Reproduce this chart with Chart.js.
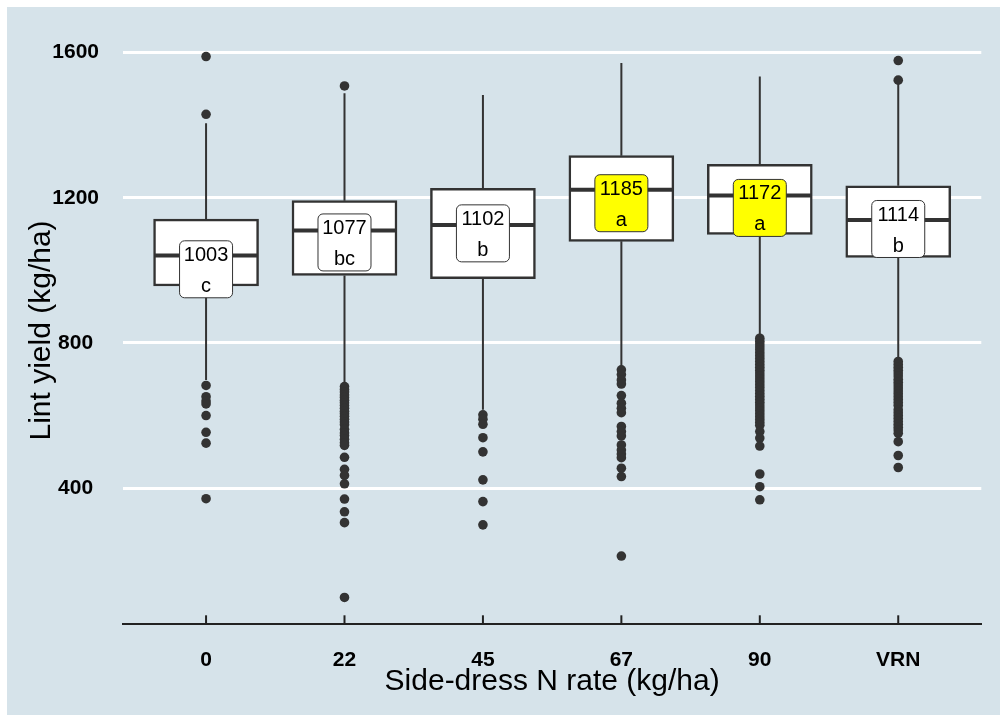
<!DOCTYPE html>
<html>
<head>
<meta charset="utf-8">
<script src="https://cdn.jsdelivr.net/npm/chart.js@4.4.1/dist/chart.umd.min.js"></script>
<style>
  html, body { margin: 0; padding: 0; background: #ffffff; }
  #c { display: block; }
</style>
</head>
<body>
<canvas id="c" width="1000" height="715"></canvas>
<script>
// ---- Data ----
const categories = ['0', '22', '45', '67', '90', 'VRN'];
const yTicks = [400, 800, 1200, 1600];

const q1 = [957, 986, 977, 1080, 1099, 1036];
const medians = [1041, 1110, 1125, 1222, 1206, 1139];
const q3 = [1141, 1192, 1226, 1316, 1292, 1233];
const whiskerLow = [698, 689, 616, 735, 818, 756];
const whiskerHigh = [1405, 1488, 1483, 1571, 1534, 1515];

const means = [1003, 1077, 1102, 1185, 1172, 1114];
const letters = ['c', 'bc', 'b', 'a', 'a', 'b'];

const outliers0 = [1589, 1430, 683, 652, 640, 632, 600, 554, 524, 371];
const outliers22 = [1508, 680, 672, 665, 657, 650, 642, 635, 628, 620, 612, 605, 598, 590, 582, 575, 562, 552, 545, 535, 525, 518, 485, 452, 435, 412, 370, 335, 305, 99];
const outliers45 = [602, 590, 576, 539, 500, 423, 363, 299];
const outliers67 = [726, 713, 698, 687, 655, 634, 620, 608, 570, 556, 544, 519, 505, 494, 484, 455, 432, 213];
const outliers90 = [813, 805, 797, 789, 781, 773, 765, 757, 749, 741, 733, 725, 717, 709, 701, 693, 685, 677, 669, 661, 653, 645, 637, 629, 621, 613, 605, 597, 589, 581, 573, 556, 538, 516, 439, 404, 368];
const outliersVRN = [1578, 1524, 749, 741, 733, 725, 717, 709, 700, 692, 684, 676, 668, 660, 652, 644, 636, 628, 616, 608, 600, 592, 584, 576, 568, 560, 551, 528, 490, 457];

const outlierGroups = [outliers0, outliers22, outliers45, outliers67, outliers90, outliersVRN];

// ---- Styling ----
const FONT = "'Liberation Sans', Arial, Helvetica, sans-serif";
const INK = '#333333';
const PANEL = '#d6e3ea';

const boxData = categories.map((c, i) => ({ x: i, y: [q1[i], q3[i]] }));
const outlierData = [];
outlierGroups.forEach((g, i) => g.forEach(v => outlierData.push({ x: i, y: v })));

const backgroundPlugin = {
  id: 'bg',
  beforeDraw(chart) {
    const ctx = chart.ctx;
    ctx.save();
    ctx.fillStyle = '#ffffff';
    ctx.fillRect(0, 0, chart.width, chart.height);
    ctx.fillStyle = PANEL;
    ctx.fillRect(7, 7, chart.width - 7, chart.height - 7);
    ctx.restore();
  }
};

const boxPlotPlugin = {
  id: 'boxplot',
  beforeDatasetsDraw(chart) {
    const ctx = chart.ctx;
    const xs = chart.scales.x, ys = chart.scales.y;
    ctx.save();
    ctx.strokeStyle = INK;
    ctx.lineWidth = 2;
    categories.forEach((c, i) => {
      const px = xs.getPixelForValue(i);
      ctx.beginPath();
      ctx.moveTo(px, ys.getPixelForValue(whiskerHigh[i]));
      ctx.lineTo(px, ys.getPixelForValue(q3[i]));
      ctx.moveTo(px, ys.getPixelForValue(q1[i]));
      ctx.lineTo(px, ys.getPixelForValue(whiskerLow[i]));
      ctx.stroke();
    });
    ctx.restore();
  },
  afterDatasetsDraw(chart) {
    const ctx = chart.ctx;
    const xs = chart.scales.x, ys = chart.scales.y;
    const bars = chart.getDatasetMeta(0).data;
    ctx.save();
    // medians
    ctx.strokeStyle = INK;
    ctx.lineWidth = 4;
    categories.forEach((c, i) => {
      const bar = bars[i];
      const half = bar.width / 2 - 1;
      const py = ys.getPixelForValue(medians[i]);
      ctx.beginPath();
      ctx.moveTo(bar.x - half, py);
      ctx.lineTo(bar.x + half, py);
      ctx.stroke();
    });
    // mean labels
    const w = 53, h = 57, r = 5;
    categories.forEach((c, i) => {
      const cx = xs.getPixelForValue(i);
      const cy = ys.getPixelForValue(means[i]);
      const x0 = cx - w / 2, y0 = cy - h / 2;
      ctx.beginPath();
      ctx.roundRect(x0, y0, w, h, r);
      ctx.fillStyle = letters[i] === 'a' ? '#ffff00' : '#ffffff';
      ctx.fill();
      ctx.lineWidth = 1;
      ctx.strokeStyle = INK;
      ctx.stroke();
      ctx.fillStyle = '#000000';
      ctx.font = '20px ' + FONT;
      ctx.textAlign = 'center';
      ctx.textBaseline = 'middle';
      ctx.fillText(String(means[i]), cx, cy - 14);
      ctx.fillText(letters[i], cx, cy + 17);
    });
    ctx.restore();
  },
  afterDraw(chart) {
    const ctx = chart.ctx;
    const xs = chart.scales.x;
    const axisY = chart.chartArea.bottom;
    ctx.save();
    ctx.strokeStyle = '#222222';
    ctx.lineWidth = 2;
    categories.forEach((c, i) => {
      const px = xs.getPixelForValue(i);
      ctx.beginPath();
      ctx.moveTo(px, axisY - 9);
      ctx.lineTo(px, axisY);
      ctx.stroke();
    });
    ctx.restore();
  }
};

new Chart(document.getElementById('c'), {
  type: 'bar',
  data: {
    datasets: [
      {
        type: 'bar',
        data: boxData,
        backgroundColor: '#ffffff',
        borderColor: INK,
        borderWidth: 2.5,
        borderSkipped: false,
        barThickness: 105,
        order: 2
      },
      {
        type: 'scatter',
        data: outlierData,
        backgroundColor: INK,
        borderWidth: 0,
        pointRadius: 4.8,
        order: 1
      }
    ]
  },
  options: {
    responsive: false,
    devicePixelRatio: 1,
    animation: false,
    events: [],
    layout: { padding: { top: 0, right: 18.7, left: 0, bottom: 0 } },
    plugins: {
      legend: { display: false },
      tooltip: { enabled: false }
    },
    scales: {
      x: {
        type: 'linear',
        offset: false,
        min: -0.6,
        max: 5.6,
        afterBuildTicks(scale) { scale.ticks = categories.map((c, i) => ({ value: i })); },
        afterFit(scale) { scale.height = 90.7; },
        grid: { display: false, drawTicks: false },
        border: { display: true, color: '#222222', width: 2 },
        ticks: {
          autoSkip: false,
          maxRotation: 0,
          padding: 23,
          color: '#000000',
          font: { family: FONT, size: 21, weight: 'bold' },
          callback: (v) => categories[Math.round(v)]
        },
        title: {
          display: true,
          text: 'Side-dress N rate (kg/ha)',
          color: '#000000',
          font: { family: FONT, size: 30 },
          padding: { top: 0, bottom: 15 }
        }
      },
      y: {
        type: 'linear',
        min: 25,
        max: 1644,
        afterBuildTicks(scale) { scale.ticks = yTicks.map(v => ({ value: v })); },
        afterFit(scale) { scale.width = 123; },
        grid: { color: '#ffffff', lineWidth: 3, drawTicks: false },
        border: { display: false },
        ticks: {
          crossAlign: 'center',
          padding: 24,
          color: '#000000',
          font: { family: FONT, size: 21, weight: 'bold' },
          callback: (v) => String(v)
        },
        title: {
          display: true,
          text: 'Lint yield (kg/ha)',
          color: '#000000',
          font: { family: FONT, size: 30 },
          padding: { top: 24, bottom: 0 }
        }
      }
    }
  },
  plugins: [backgroundPlugin, boxPlotPlugin]
});
</script>
</body>
</html>
